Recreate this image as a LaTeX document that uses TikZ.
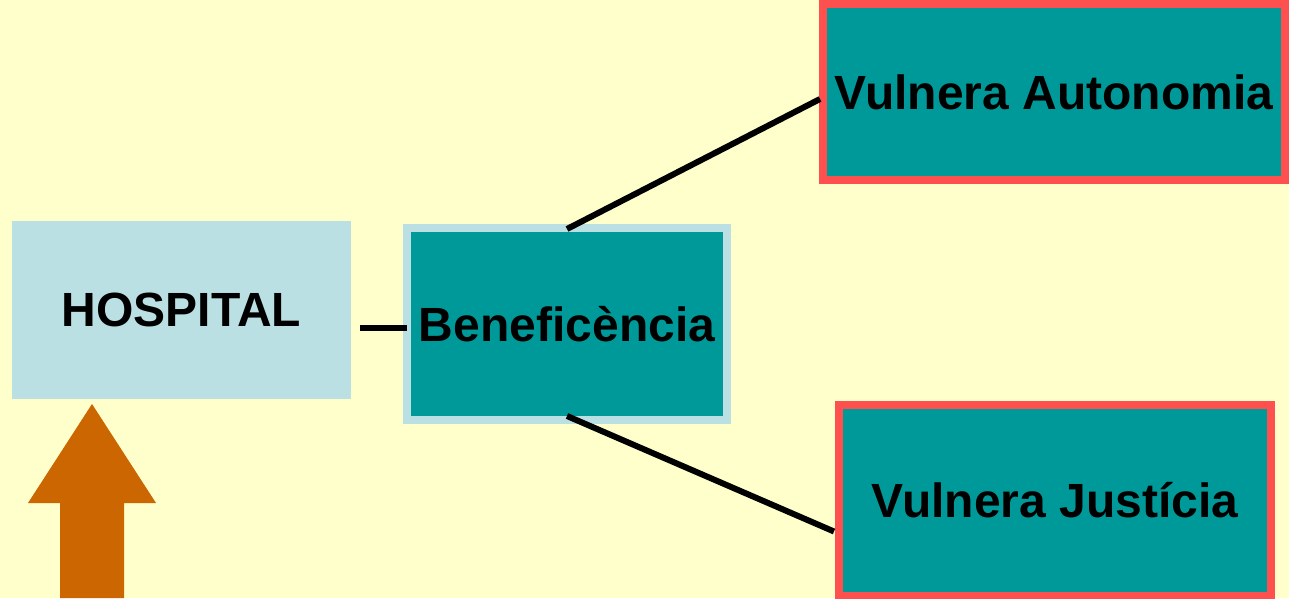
\documentclass[tikz,border=0pt]{standalone}
\usepackage{fontspec}
\setmainfont{Liberation Sans}
\definecolor{paper}{HTML}{FFFFCC}
\definecolor{paleblue}{HTML}{BBE0E3}
\definecolor{tealbox}{HTML}{009999}
\definecolor{redline}{HTML}{FF5050}
\definecolor{rust}{HTML}{CC6600}
\begin{document}
\begin{tikzpicture}[x=1pt, y=1pt, inner sep=0pt,
    font=\bfseries\fontsize{48}{54}\selectfont,
    base/.style = {fill=paleblue, minimum width=339pt, minimum height=178pt},
    mid/.style = {draw=paleblue, line width=8pt, fill=tealbox, minimum width=320pt, minimum height=192pt},
    red/.style = {draw=redline, line width=8pt, fill=tealbox},
    link/.style = {line width=6pt}]
    \fill[paper] (0,0) rectangle (1289,598);
    \useasboundingbox (0,0) rectangle (1289,598);
    \node[base] (hospital) at (181.5,288) {HOSPITAL};
    \node[mid] (benef) at (567,274) {Beneficència};
    \node[red, minimum width=462pt, minimum height=176pt] (autonomia) at (1054,506) {Vulnera Autonomia};
    \node[red, minimum width=432pt, minimum height=191pt] (justicia) at (1055,97.5) {Vulnera Justícia};
    \fill[rust] (60,0) -- (60,95) -- (28,95) -- (92,194) -- (156,95) -- (124,95) -- (124,0) -- cycle;
    \draw[link] ([xshift=9pt,yshift=-18pt]hospital.east) -- ([xshift=4pt,yshift=-4pt]benef.west);
    \draw[link] ([yshift=-5pt]benef.north) -- ([xshift=1pt,yshift=-7pt]autonomia.west);
    \draw[link] ([yshift=8pt]benef.south) -- ([xshift=-1pt,yshift=-31pt]justicia.west);
\end{tikzpicture}
\end{document}
